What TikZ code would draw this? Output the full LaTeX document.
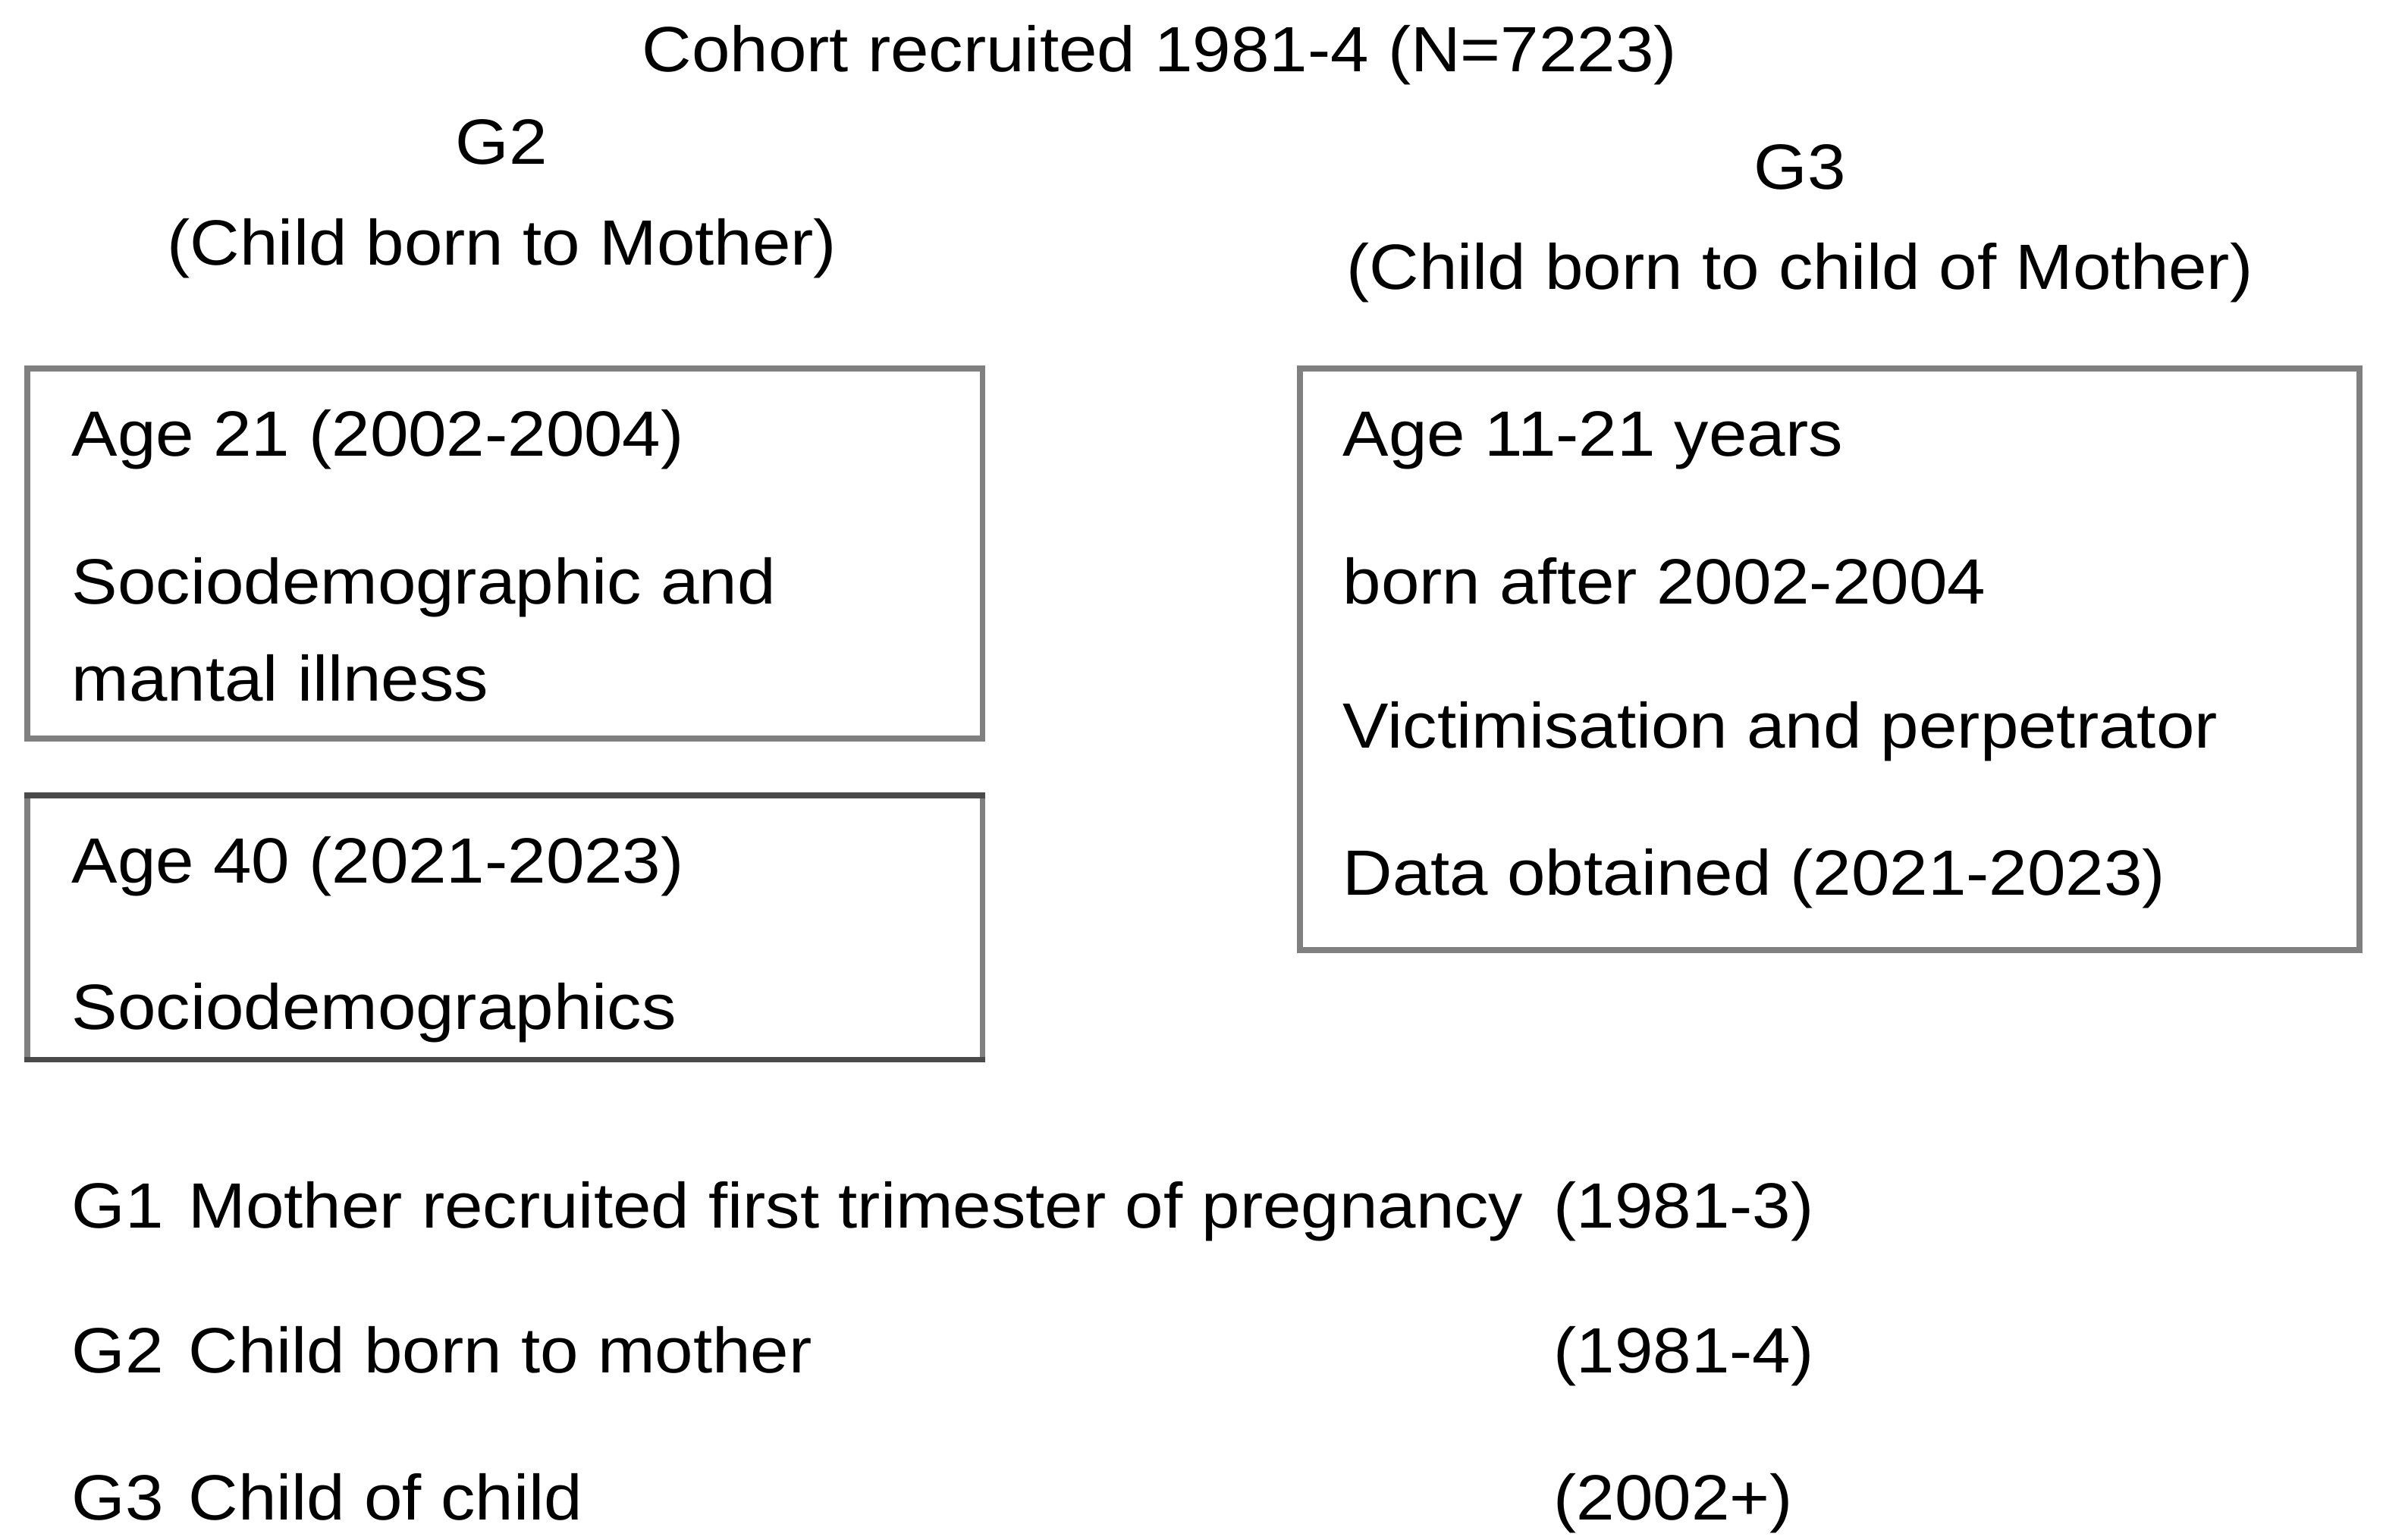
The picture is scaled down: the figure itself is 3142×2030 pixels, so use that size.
\documentclass[tikz,border=0pt]{standalone}
\usepackage{fontspec}
\setmainfont[FakeStretch=1.075]{Liberation Sans}
\definecolor{boxgray}{HTML}{808080}
\definecolor{boxdark}{HTML}{4A4A4A}
\begin{document}
\begin{tikzpicture}[x=0.01cm,y=-0.01cm,
  txt/.style={anchor=base west, inner sep=0pt, font=\fontsize{24}{28}\selectfont},
  ctxt/.style={anchor=base, inner sep=0pt, font=\fontsize{24}{28}\selectfont},
  panel/.style={draw=boxgray, line width=2.2pt, anchor=north west, inner sep=0pt},
  darkedge/.style={draw=boxdark, line width=2.2pt}]
\useasboundingbox[fill=white] (0,0) rectangle (3142,2030);
% boxes
\node[panel, minimum width=12.59cm, minimum height=4.88cm] (b1) at (32,482) {};
\node[panel, minimum width=12.59cm, minimum height=3.485cm] (b2) at (32,1045) {};
\draw[darkedge] ([yshift=-1.1pt]b2.north west) -- ([yshift=-1.1pt]b2.north east);
\draw[darkedge] ([yshift=1.1pt]b2.south west) -- ([yshift=1.1pt]b2.south east);
\node[panel, minimum width=13.96cm, minimum height=7.67cm] (b3) at (1710,482) {};
% headers
\node[ctxt] (title) at (1529,94) {Cohort recruited 1981-4 (N=7223)};
\node[ctxt] (g2h) at (661,216) {G2};
\node[ctxt] (g2s) at (662,349) {(Child born to Mother)};
\node[ctxt] (g3h) at (2373,249) {G3};
\node[ctxt] (g3s) at (2373,381) {(Child born to child of Mother)};
% box 1
\node[txt] (b1a) at (94,601) {Age 21 (2002-2004)};
\node[txt] (b1b) at (94,796) {Sociodemographic and};
\node[txt] (b1c) at (94,924) {mantal illness};
% box 2
\node[txt] (b2a) at (94,1164) {Age 40 (2021-2023)};
\node[txt] (b2b) at (94,1357) {Sociodemographics};
% box 3
\node[txt] (b3a) at (1770,601) {Age 11-21 years};
\node[txt] (b3b) at (1770,796) {born after 2002-2004};
\node[txt] (b3c) at (1770,986) {Victimisation and perpetrator};
\node[txt] (b3d) at (1770,1180) {Data obtained (2021-2023)};
% legend
\node[txt] (l1a) at (94,1619) {G1};
\node[txt] (l1b) at (248,1619) {Mother recruited first trimester of pregnancy};
\node[txt] (l1c) at (2048,1619) {(1981-3)};
\node[txt] (l2a) at (94,1810) {G2};
\node[txt] (l2b) at (248,1810) {Child born to mother};
\node[txt] (l2c) at (2048,1810) {(1981-4)};
\node[txt] (l3a) at (94,2004) {G3};
\node[txt] (l3b) at (248,2004) {Child of child};
\node[txt] (l3c) at (2048,2004) {(2002+)};
\end{tikzpicture}
\end{document}
